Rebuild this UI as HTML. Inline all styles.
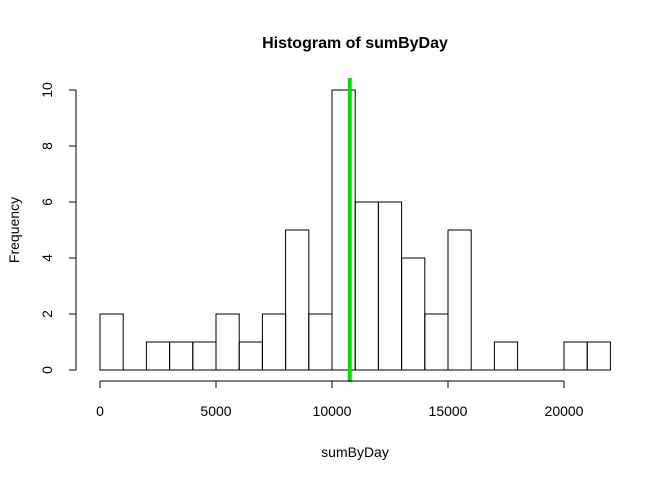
<!DOCTYPE html>
<html><head><meta charset="utf-8"><style>body{margin:0;background:#fff}svg{display:block;font-family:"Liberation Sans",Arial,sans-serif}</style></head>
<body>
<svg width="672" height="480" id="c">
<text x="355" y="48" text-anchor="middle" font-weight="bold" font-size="16">Histogram of sumByDay</text>
<text x="355" y="457" text-anchor="middle" font-size="14">sumByDay</text>
<text transform="translate(19,230) rotate(-90)" text-anchor="middle" font-size="14">Frequency</text>
<g id="bars"></g><g id="axes"></g>
</svg>
<script>
const binStarts=[0,1000,2000,3000,4000,5000,6000,7000,8000,9000,10000,11000,12000,13000,14000,15000,16000,17000,18000,19000,20000,21000];
const counts=[2,0,1,1,1,2,1,2,5,2,10,6,6,4,2,5,0,1,0,0,1,1];
const binWidth=1000;
const xTicks=[0,5000,10000,15000,20000];
const yTicks=[0,2,4,6,8,10];
const meanValue=10766;
const NS="http://www.w3.org/2000/svg";
const sx=v=>100+v*0.0232, sy=v=>370-v*28;
function mk(t,a,p){const e=document.createElementNS(NS,t);for(const k in a)e.setAttribute(k,a[k]);p.appendChild(e);return e;}
const bars=document.getElementById('bars'),axes=document.getElementById('axes');
binStarts.forEach((b,i)=>{const x0=sx(b),x1=sx(b+binWidth),y0=sy(0),y1=sy(counts[i]);
const r=mk('path',{d:`M${x0},${y0}L${x0},${y1}L${x1},${y1}L${x1},${y0}Z`,fill:'none',stroke:'#000','stroke-width':1},bars);

});
const ml=mk('line',{x1:sx(meanValue),x2:sx(meanValue),y1:78,y2:382,stroke:'#00e000','stroke-width':4},bars);


const xa=mk('line',{x1:sx(xTicks[0]),x2:sx(xTicks[xTicks.length-1]),y1:381,y2:381,stroke:'#000'},axes);


xTicks.forEach(t=>{mk('line',{x1:sx(t),x2:sx(t),y1:381,y2:388,stroke:'#000'},axes);
const l=mk('text',{x:sx(t),y:416,'text-anchor':'middle','font-size':14},axes);l.textContent=t;

});
const ya=mk('line',{x1:76,x2:76,y1:sy(yTicks[yTicks.length-1]),y2:sy(yTicks[0]),stroke:'#000'},axes);


yTicks.forEach(t=>{mk('line',{x1:69,x2:76,y1:sy(t),y2:sy(t),stroke:'#000'},axes);
const l=mk('text',{transform:`translate(52,${sy(t)}) rotate(-90)`,'text-anchor':'middle','font-size':14},axes);l.textContent=t;

});
</script>
</body></html>
